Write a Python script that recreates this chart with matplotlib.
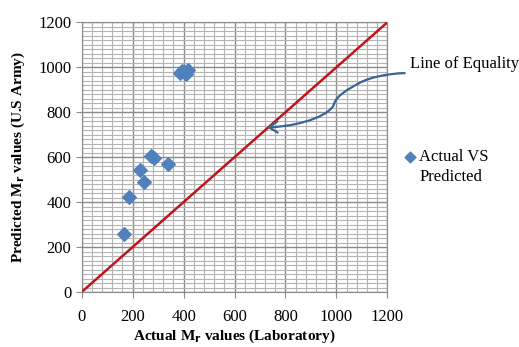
import matplotlib.pyplot as plt
import numpy as np
from matplotlib.path import Path
from matplotlib.patches import FancyArrowPatch
from matplotlib.ticker import MultipleLocator

plt.rcParams['font.family'] = ['Liberation Serif', 'DejaVu Serif']

# measured resilient modulus: laboratory vs U.S. Army prediction
actual = [168, 186, 230, 245, 272, 282, 340, 386, 395, 405, 410, 418]
predicted = [257, 421, 541, 488, 603, 598, 570, 975, 985, 978, 972, 986]
equality = [0, 1200]

fig = plt.figure(figsize=(5.19, 3.47), dpi=100)
ax = fig.add_axes([0.1574, 0.1585, 0.589, 0.7772])

ax.set_xlim(0, 1200)
ax.set_ylim(0, 1200)
ax.xaxis.set_major_locator(MultipleLocator(200))
ax.yaxis.set_major_locator(MultipleLocator(200))
ax.xaxis.set_minor_locator(MultipleLocator(40))
ax.yaxis.set_minor_locator(MultipleLocator(20))
ax.grid(which='minor', color='#b4b4b4', linewidth=0.8)
ax.grid(which='major', color='#8a8a8a', linewidth=1.0)
ax.set_axisbelow(True)
for s in ax.spines.values():
    s.set_color('#8a8a8a')
ax.tick_params(which='major', length=4, color='#8a8a8a', labelsize=12)
ax.tick_params(which='minor', length=0)
ax.tick_params(axis='x', pad=8)

ax.plot(equality, equality, color='#C0161B', linewidth=1.8, zorder=3)
ax.scatter(actual, predicted, marker='D', s=48, color='#4F81BD', zorder=4)

ax.set_xlabel('Actual M$_\\mathbf{r}$ values (Laboratory)', fontsize=11,
              fontweight='bold', labelpad=2)
ax.set_ylabel('Predicted M$_\\mathbf{r}$ values (U.S Army)', fontsize=11,
              fontweight='bold', labelpad=8)

# curved arrow pointing at the line of equality
verts = [(1268, 974), (1200, 972), (1130, 955), (1090, 930),
         (1050, 905), (1000, 875), (990, 835),
         (980, 795), (880, 740), (728, 732)]
codes = [Path.MOVETO] + [Path.CURVE4] * 9
arrow = FancyArrowPatch(path=Path(verts, codes), arrowstyle='->,head_length=6,head_width=4',
                        color='#3A6494', linewidth=1.6, clip_on=False, zorder=5)
ax.add_patch(arrow)
ax.text(1290, 1015, 'Line of Equality', fontsize=12, ha='left', va='center',
        clip_on=False)

# legend entry
ax.scatter([1290], [600], marker='D', s=30, color='#4F81BD', clip_on=False)
ax.text(1325, 600, 'Actual VS', fontsize=12, ha='left', va='center')
ax.text(1325, 510, 'Predicted', fontsize=12, ha='left', va='center')

fig.savefig('out.png', dpi=100)
